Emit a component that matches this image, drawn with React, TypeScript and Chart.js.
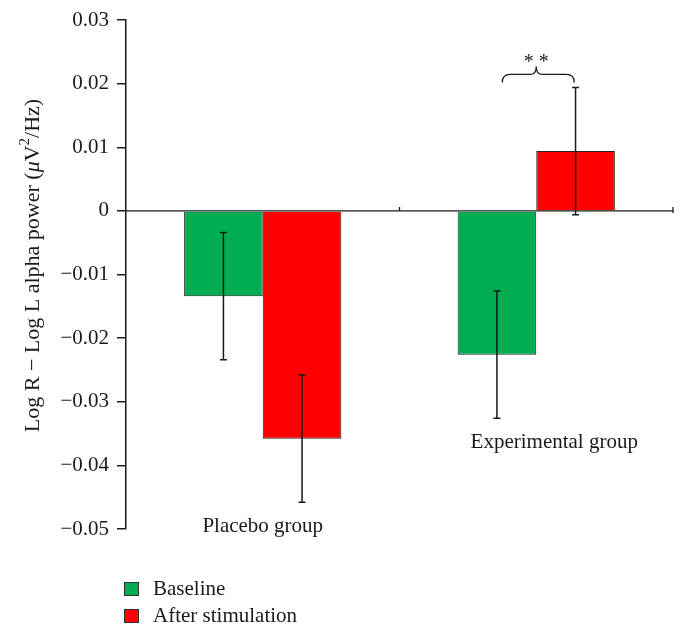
import React, { useEffect, useRef } from "react";
import { Chart, registerables } from "chart.js";

Chart.register(...registerables);

const categories = ["Placebo group", "Experimental group"];
const seriesNames = ["Baseline", "After stimulation"];
const baselineValues = [-0.0134, -0.0226];
const afterValues = [-0.0358, 0.0094];
const baselineErrors = [0.01, 0.01];
const afterErrors = [0.01, 0.01];
const yTicks = { min: -0.05, max: 0.03, step: 0.01 };
const significance = "* *";

const GREEN = "#00AD50";
const RED = "#FF0000";
const FONT = "'Liberation Serif', 'Times New Roman', serif";

const errorsBySeries = [baselineErrors, afterErrors];
const seriesValues = [baselineValues, afterValues];

const decorPlugin = {
  id: "decor",
  afterDatasetsDraw(chart: any) {
    const ctx = chart.ctx;
    const ys = chart.scales.y;
    ctx.save();
    ctx.strokeStyle = "#1a1a1a";
    ctx.lineWidth = 1.5;
    for (let d = 0; d < 2; d++) {
      const meta = chart.getDatasetMeta(d);
      meta.data.forEach((bar: any, j: number) => {
        const v = seriesValues[d][j];
        const e = errorsBySeries[d][j];
        const yt = ys.getPixelForValue(v + e);
        const yb = ys.getPixelForValue(v - e);
        ctx.beginPath();
        ctx.moveTo(bar.x, yt);
        ctx.lineTo(bar.x, yb);
        ctx.moveTo(bar.x - 3.5, yt);
        ctx.lineTo(bar.x + 3.5, yt);
        ctx.moveTo(bar.x - 3.5, yb);
        ctx.lineTo(bar.x + 3.5, yb);
        ctx.stroke();
      });
    }
    ctx.restore();
  },
  afterDraw(chart: any) {
    const ctx = chart.ctx;
    const ys = chart.scales.y;
    const xs = chart.scales.x;
    const area = chart.chartArea;
    ctx.save();
    // zero line
    const y0 = ys.getPixelForValue(0);
    ctx.strokeStyle = "#1a1a1a";
    ctx.lineWidth = 1.3;
    ctx.beginPath();
    ctx.moveTo(area.left, y0);
    ctx.lineTo(area.right, y0);
    const mid = (xs.getPixelForValue(0) + xs.getPixelForValue(1)) / 2;
    ctx.moveTo(mid, y0);
    ctx.lineTo(mid, y0 - 4);
    ctx.moveTo(area.right, y0 + 2);
    ctx.lineTo(area.right, y0 - 4);
    ctx.stroke();

    // category labels
    ctx.fillStyle = "#1a1a1a";
    ctx.font = `21px ${FONT}`;
    ctx.textAlign = "center";
    ctx.textBaseline = "alphabetic";
    const labelDx = [0, 18];
    categories.forEach((c, j) => {
      const lowest = Math.min(
        baselineValues[j] - baselineErrors[j],
        afterValues[j] - afterErrors[j]
      );
      const yl = ys.getPixelForValue(lowest) + 30;
      ctx.fillText(c, xs.getPixelForValue(j) + labelDx[j], yl);
    });

    // significance bracket over experimental group
    const j = 1;
    const xc = xs.getPixelForValue(j);
    const top = Math.max(
      baselineValues[j] + baselineErrors[j],
      afterValues[j] + afterErrors[j]
    );
    const yb = ys.getPixelForValue(top) - 5;
    const L = xc - 34;
    const R = xc + 38;
    const yh = yb - 8;
    ctx.lineWidth = 1.3;
    ctx.beginPath();
    ctx.moveTo(L, yb);
    ctx.quadraticCurveTo(L, yh, L + 8, yh);
    ctx.lineTo(xc - 6, yh);
    ctx.quadraticCurveTo(xc, yh, xc, yh - 8);
    ctx.quadraticCurveTo(xc, yh, xc + 6, yh);
    ctx.lineTo(R - 8, yh);
    ctx.quadraticCurveTo(R, yh, R, yb);
    ctx.stroke();
    ctx.font = `20px ${FONT}`;
    ctx.fillText(significance, xc, yh - 6);

    // y title
    ctx.translate(25, (area.top + area.bottom) / 2 - 9);
    ctx.rotate(-Math.PI / 2);
    const parts: [string, string, number][] = [
      ["Log R \u2212 Log L alpha power (", `22px ${FONT}`, 0],
      ["\u03bc", `italic 22px ${FONT}`, 0],
      ["V", `22px ${FONT}`, 0],
      ["2", `15px ${FONT}`, -8],
      ["/Hz)", `22px ${FONT}`, 0],
    ];
    let total = 0;
    parts.forEach(([t, f]) => {
      ctx.font = f;
      total += ctx.measureText(t).width;
    });
    let x = -total / 2;
    ctx.textAlign = "left";
    ctx.textBaseline = "middle";
    parts.forEach(([t, f, dy]) => {
      ctx.font = f;
      ctx.fillText(t, x, dy);
      x += ctx.measureText(t).width;
    });
    ctx.setTransform(1, 0, 0, 1, 0, 0);

    // legend
    const colors = [GREEN, RED];
    ctx.font = `21px ${FONT}`;
    ctx.textAlign = "left";
    ctx.textBaseline = "alphabetic";
    seriesNames.forEach((n, i) => {
      const sy = area.bottom + 53 + i * 27;
      ctx.fillStyle = colors[i];
      ctx.fillRect(area.left - 2, sy, 15, 14);
      ctx.strokeStyle = "#333";
      ctx.lineWidth = 1;
      ctx.strokeRect(area.left - 1.5, sy + 0.5, 14, 13);
      ctx.fillStyle = "#1a1a1a";
      ctx.fillText(n, area.left + 27, sy + 13);
    });
    ctx.restore();
  },
};

export default function App() {
  const ref = useRef<HTMLCanvasElement | null>(null);
  useEffect(() => {
    if (!ref.current) return;
    const chart = new Chart(ref.current, {
      type: "bar",
      data: {
        labels: categories,
        datasets: [
          {
            label: seriesNames[0],
            data: baselineValues,
            backgroundColor: GREEN,
            borderColor: "#222",
            borderWidth: 1,
            barPercentage: 1,
            categoryPercentage: 0.575,
          },
          {
            label: seriesNames[1],
            data: afterValues,
            backgroundColor: RED,
            borderColor: "#222",
            borderWidth: 1,
            barPercentage: 1,
            categoryPercentage: 0.575,
          },
        ],
      },
      options: {
        animation: false,
        responsive: false,
        layout: { padding: { top: 12, bottom: 98, right: 7, left: 0 } },
        plugins: { legend: { display: false }, tooltip: { enabled: false } },
        scales: {
          x: { display: false, offset: true },
          y: {
            min: yTicks.min,
            max: yTicks.max,
            afterFit: (s: any) => {
              s.width = 118;
              s.paddingTop = 0;
              s.paddingBottom = 0;
            },
            border: { display: true, color: "#1a1a1a", width: 1.5 },
            grid: {
              drawOnChartArea: false,
              tickLength: 9,
              color: "#1a1a1a",
              lineWidth: 1.5,
            },
            ticks: {
              stepSize: yTicks.step,
              padding: 8,
              color: "#1a1a1a",
              font: { family: FONT, size: 21 },
              callback: (v: any) => {
                const r = Math.round(Number(v) * 100) / 100;
                if (r === 0) return "0";
                return r.toFixed(2).replace("-", "\u2212");
              },
            },
          },
        },
      },
      plugins: [decorPlugin],
    });
    return () => chart.destroy();
  }, []);
  return (
    <canvas
      ref={ref}
      width={672}
      height={619}
      style={{ display: "block", width: 672, height: 619 }}
    />
  );
}
